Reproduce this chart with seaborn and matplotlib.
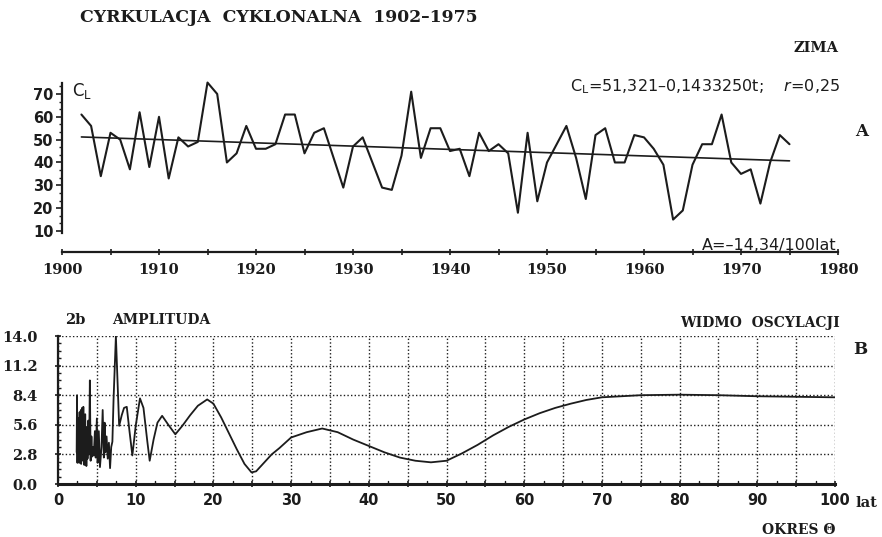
import matplotlib
matplotlib.use("Agg")
import matplotlib.pyplot as plt
import seaborn as sns
import pandas as pd
from matplotlib.ticker import MultipleLocator, FixedLocator

# --- winter cyclonic circulation index C_L, 1902-1975 ---
years = list(range(1902, 1976))
cyclonal = [61, 56, 34, 53, 50, 37, 62, 38, 60, 33,
            51, 47, 49, 75, 70, 40, 44, 56, 46, 46,
            48, 61, 61, 44, 53, 55, 42, 29, 47, 51,
            40, 29, 28, 43, 71, 42, 55, 55, 45, 46,
            34, 53, 45, 48, 44, 18, 53, 23, 40, 48,
            56, 42, 24, 52, 55, 40, 40, 52, 51, 46,
            39, 15, 19, 39, 48, 48, 61, 40, 35, 37,
            22, 40, 52, 48]

# linear trend C_L = a + b*t, t counted from 1902 = 1
trend_a = 51.321
trend_b = -0.1433250

# --- oscillation spectrum: amplitude vs period (years) ---
period = [2.40, 2.45, 2.50, 2.54, 2.58, 2.62, 2.66, 2.70, 2.74, 2.78,
          2.82, 2.86, 2.90, 2.94, 2.98, 3.02, 3.06, 3.10, 3.14, 3.18,
          3.22, 3.26, 3.30, 3.34, 3.38, 3.42, 3.46, 3.50, 3.55, 3.60,
          3.65, 3.72, 3.80, 3.90, 4.00, 4.10, 4.20, 4.30, 4.40, 4.50,
          4.60, 4.75, 4.85, 5.00, 5.10, 5.25, 5.40, 5.60, 5.75, 5.90,
          6.00, 6.10, 6.25, 6.40, 6.55, 6.70, 6.85, 7.00, 7.15, 7.45,
          7.87, 8.20, 8.50, 8.85, 9.20, 9.57, 10.0, 10.55, 11.0, 11.5,
          11.8, 12.3, 12.8, 13.4, 14.2, 15.1, 16.0, 17.0, 18.0, 19.2,
          20.0, 21.0, 22.0, 23.0, 24.0, 24.9, 25.5, 26.5, 27.5, 28.5,
          30.0, 32.0, 34.0, 36.0, 38.0, 40.0, 42.0, 44.0, 46.0, 48.0,
          50.0, 52.0, 54.0, 56.0, 58.0, 60.0, 62.0, 64.0, 66.0, 68.0,
          70.0, 75.0, 80.0, 85.0, 90.0, 95.0, 100.0]
amplitude = [3.0, 8.4, 2.0, 5.0, 2.5, 6.2, 2.8, 5.5, 2.0, 6.8,
             2.6, 5.2, 3.4, 7.0, 1.9, 6.0, 2.8, 7.2, 3.0, 5.8,
             2.2, 7.3, 3.4, 6.2, 1.8, 5.5, 2.8, 6.6, 2.3, 5.4,
             1.7, 4.8, 2.4, 6.0, 2.8, 9.8, 2.2, 4.5, 2.6, 3.5,
             2.7, 5.0, 2.5, 6.2, 2.0, 5.0, 1.6, 3.5, 7.0, 2.5,
             5.8, 3.0, 4.5, 2.4, 3.9, 1.5, 3.5, 4.0, 8.0, 14.0,
             5.5, 6.5, 7.2, 7.3, 5.0, 2.7, 5.5, 8.1, 7.2, 4.0,
             2.2, 4.2, 5.8, 6.45, 5.6, 4.7, 5.5, 6.5, 7.4, 8.0,
             7.6, 6.3, 4.8, 3.3, 1.9, 1.1, 1.2, 2.0, 2.8, 3.4,
             4.4, 4.9, 5.25, 4.9, 4.2, 3.6, 3.0, 2.5, 2.2, 2.05,
             2.2, 2.9, 3.7, 4.6, 5.4, 6.1, 6.7, 7.2, 7.6, 7.95,
             8.2, 8.4, 8.45, 8.4, 8.3, 8.25, 8.2]

sp_yticks = [0.0, 2.8, 5.6, 8.4, 11.2, 14.0]

sns.set_theme(style="white")
plt.rcParams["font.family"] = ["DejaVu Sans"]
plt.rcParams["mathtext.fontset"] = "dejavusans"

W, H = 882, 537
fig = plt.figure(figsize=(W / 100, H / 100), dpi=100)
fig.patch.set_facecolor("white")
INK = "#1c1c1c"


def px(x0, y0, x1, y1):
    return [x0 / W, 1 - y1 / H, (x1 - x0) / W, (y1 - y0) / H]


def ftext(x, y, s, **kw):
    kw.setdefault("color", INK)
    fig.text(x / W, 1 - y / H, s, **kw)


serif = dict(family="DejaVu Serif", weight="bold")

# ---------------- panel A: time series ----------------
axA = fig.add_axes(px(62, 75.7, 838, 252))
df = pd.DataFrame({"rok": years, "CL": cyclonal})
df["trend"] = trend_a + trend_b * (df["rok"] - 1901)
sns.lineplot(data=df, x="rok", y="CL", ax=axA, color=INK, lw=1.5)
sns.lineplot(data=df, x="rok", y="trend", ax=axA, color=INK, lw=1.2)
axA.set_xlim(1900, 1980)
axA.set_ylim(0.8, 78)
axA.set_xlabel("")
axA.set_ylabel("")
axA.set_facecolor("white")
for s in ("top", "right"):
    axA.spines[s].set_visible(False)
for s in ("left", "bottom"):
    axA.spines[s].set_color(INK)
    axA.spines[s].set_linewidth(1.6)
axA.spines["left"].set_bounds(9, 75)
axA.set_yticks(range(10, 71, 10))
axA.yaxis.set_minor_locator(FixedLocator(
    [10 + k * 10 / 3 for k in range(0, 20) if k % 3]))
axA.set_xticks(range(1900, 1981, 10))
axA.xaxis.set_minor_locator(MultipleLocator(5))
axA.tick_params(axis="y", which="major", direction="out", length=4, width=1.2,
                color=INK, pad=2, labelsize=10.5, labelcolor=INK, left=True)
axA.tick_params(axis="y", which="minor", direction="out", length=2.5, width=1,
                color=INK, left=True)
axA.tick_params(axis="x", which="both", direction="inout", length=4, width=1.2,
                color=INK, pad=6, labelsize=10.5, labelcolor=INK, bottom=True)
for lab in axA.get_yticklabels():
    lab.set_fontweight("bold")
for lab in axA.get_xticklabels():
    lab.set_fontfamily("DejaVu Serif")
    lab.set_fontweight("bold")

# ---------------- panel B: spectrum ----------------
axB = fig.add_axes(px(58, 336, 835, 484))
sf = pd.DataFrame({"okres": period, "amp": amplitude})
sns.lineplot(data=sf, x="okres", y="amp", ax=axB, color=INK, lw=1.3,
             sort=False, estimator=None)
axB.set_xlim(0, 100)
axB.set_ylim(0, 14)
axB.set_xlabel("")
axB.set_ylabel("")
axB.set_facecolor("white")
for s in ("top", "right"):
    axB.spines[s].set_visible(False)
axB.spines["bottom"].set_linewidth(2.2)
axB.spines["left"].set_linewidth(1.6)
for s in ("left", "bottom"):
    axB.spines[s].set_color(INK)
axB.set_xticks(range(0, 101, 10))
axB.set_xticks([x for x in range(5, 100, 10)], minor=True)
axB.set_yticks(sp_yticks)
axB.set_yticklabels([f"{v:.1f}" for v in sp_yticks])
axB.yaxis.set_minor_locator(MultipleLocator(0.7))
axB.grid(True, which="major", axis="y", color=INK, lw=1.0, ls=(0, (1, 1.6)))
axB.grid(True, which="both", axis="x", color=INK, lw=1.0, ls=(0, (1, 1.6)))
# small ticks between the dotted grid lines
for xm in [x + 2.5 for x in range(0, 100, 5)]:
    axB.plot([xm, xm], [0, 0.25], color=INK, lw=1, clip_on=False)
axB.tick_params(axis="x", which="both", direction="inout", length=5, width=1.2,
                color=INK, pad=4, labelsize=10.5, labelcolor=INK, bottom=True)
axB.tick_params(axis="y", which="major", direction="inout", length=5, width=1.2,
                color=INK, pad=12, labelsize=10.5, labelcolor=INK, left=True)
axB.tick_params(axis="y", which="minor", direction="in", length=2.5, width=1,
                color=INK, left=True)
axB.set_axisbelow(True)
for lab in axB.get_xticklabels():
    lab.set_fontweight("bold")
for lab in axB.get_yticklabels():
    lab.set_fontfamily("DejaVu Serif")
    lab.set_fontweight("bold")

# ---------------- annotations ----------------
ftext(80, 17, "CYRKULACJA  CYKLONALNA  1902–1975", va="center", ha="left",
      fontsize=12.4, **serif)
ftext(838, 48, "ZIMA", va="center", ha="right", fontsize=10.5, **serif)
ftext(840, 87, r"C$_{\rm L}$=51,321–0,1433250t;    $r$=0,25", va="center",
      ha="right", fontsize=11.5)
ftext(862, 131, "A", va="center", ha="center", fontsize=12, **serif)
ftext(836, 245, "A=–14,34/100lat", va="center", ha="right", fontsize=11.5)
ftext(72, 91, r"C$_{\rm L}$", va="center", ha="left", fontsize=12)

ftext(65, 320, "2b", va="center", ha="left", fontsize=10.5, **serif)
ftext(112, 320, "AMPLITUDA", va="center", ha="left", fontsize=10, **serif)
ftext(840, 323, "WIDMO  OSCYLACJI", va="center", ha="right", fontsize=10, **serif)
ftext(860, 350, "B", va="center", ha="center", fontsize=12, **serif)
ftext(855, 503, "lat", va="center", ha="left", fontsize=10.5, **serif)
ftext(762, 530, "OKRES Θ", va="center", ha="left", fontsize=10, **serif)

fig.savefig("out.png", dpi=100, facecolor="white")
